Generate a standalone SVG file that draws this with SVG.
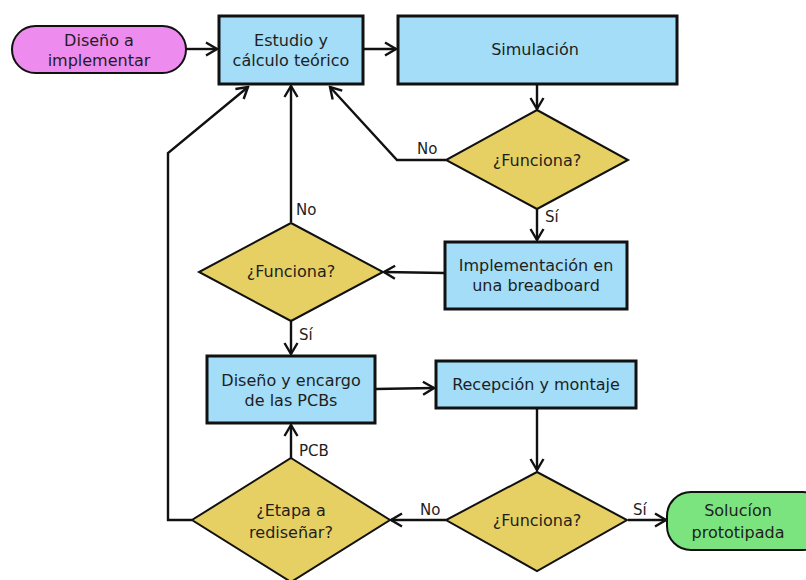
<svg xmlns="http://www.w3.org/2000/svg" width="806" height="580" viewBox="0 0 806 580">
  <style>
    text { font-family: "DejaVu Sans", "Liberation Sans", sans-serif; font-size: 16px; fill: #1e1e1e; text-anchor: middle; }
    .lbl { text-anchor: start; font-size: 15px; }
    .box { fill: #a3ddf8; stroke: #111; stroke-width: 3; }
    .dec { fill: #e6d063; stroke: #111; stroke-width: 2; }
    .start { fill: #ee8bee; stroke: #111; stroke-width: 2; }
    .end { fill: #7be47f; stroke: #111; stroke-width: 2; }
    .conn { fill: none; stroke: #111; stroke-width: 2.4; stroke-linejoin: miter; }
  </style>
  <defs>
    <marker id="arrow" markerUnits="userSpaceOnUse" markerWidth="14" markerHeight="16" viewBox="0 0 14 16" refX="12" refY="8" orient="auto">
      <path d="M1,1.5 L12,8 L1,14.5" fill="none" stroke="#111" stroke-width="2.4"/>
    </marker>
  </defs>
  <rect width="806" height="580" fill="#fff"/>

  <g id="connectors" class="conn" marker-end="url(#arrow)">
    <path d="M186,49 L217,49"/>
    <path d="M363,49 L396,49"/>
    <path d="M537,84 L537,109"/>
    <path d="M446,160 L397,160 L330,87"/>
    <path d="M537,209 L537,240"/>
    <path d="M445,273 L384,272"/>
    <path d="M291,222 L291,86"/>
    <path d="M291,321 L291,354"/>
    <path d="M375,389 L434,388"/>
    <path d="M537,408 L537,470"/>
    <path d="M446,520 L391,520"/>
    <path d="M628,520 L666,520"/>
    <path d="M291,458 L291,425"/>
    <path d="M192,520 L168,520 L168,153 L248,87"/>
  </g>

  <g id="labels">
    <text class="lbl" x="417" y="154">No</text>
    <text class="lbl" x="545" y="222">Sí</text>
    <text class="lbl" x="296" y="215">No</text>
    <text class="lbl" x="299" y="340">Sí</text>
    <text class="lbl" x="299" y="456">PCB</text>
    <text class="lbl" x="420" y="515">No</text>
    <text class="lbl" x="633" y="515">Sí</text>
  </g>

  <g id="start">
    <rect class="start" x="12" y="26" width="174" height="47" rx="23.5"/>
    <text x="99" y="46">Diseño a</text>
    <text x="99" y="66">implementar</text>
  </g>

  <g id="estudio">
    <rect class="box" x="219" y="16" width="144" height="68"/>
    <text x="291" y="46">Estudio y</text>
    <text x="291" y="66">cálculo teórico</text>
  </g>

  <g id="simulacion">
    <rect class="box" x="398" y="16" width="279" height="68"/>
    <text x="535" y="55">Simulación</text>
  </g>

  <g id="funciona-sim">
    <polygon class="dec" points="537,110 628,160 537,209 446,160"/>
    <text x="537" y="166">¿Funciona?</text>
  </g>

  <g id="implementacion">
    <rect class="box" x="445" y="242" width="182" height="67"/>
    <text x="536" y="271">Implementación en</text>
    <text x="536" y="291">una breadboard</text>
  </g>

  <g id="funciona-breadboard">
    <polygon class="dec" points="291,223 383,272 291,321 199,272"/>
    <text x="291" y="277">¿Funciona?</text>
  </g>

  <g id="diseno-pcb">
    <rect class="box" x="207" y="356" width="168" height="67"/>
    <text x="291" y="386">Diseño y encargo</text>
    <text x="291" y="406">de las PCBs</text>
  </g>

  <g id="recepcion">
    <rect class="box" x="436" y="361" width="200" height="47"/>
    <text x="536" y="390">Recepción y montaje</text>
  </g>

  <g id="funciona-pcb">
    <polygon class="dec" points="537,472 627,520 537,571 446,520"/>
    <text x="537" y="526">¿Funciona?</text>
  </g>

  <g id="etapa">
    <polygon class="dec" points="291,458 390,520 291,582 192,520"/>
    <text x="291" y="516">¿Etapa a</text>
    <text x="291" y="538">rediseñar?</text>
  </g>

  <g id="solucion">
    <rect class="end" x="667" y="492" width="160" height="58" rx="24"/>
    <text x="738" y="516">Solucíon</text>
    <text x="738" y="538">prototipada</text>
  </g>
</svg>
